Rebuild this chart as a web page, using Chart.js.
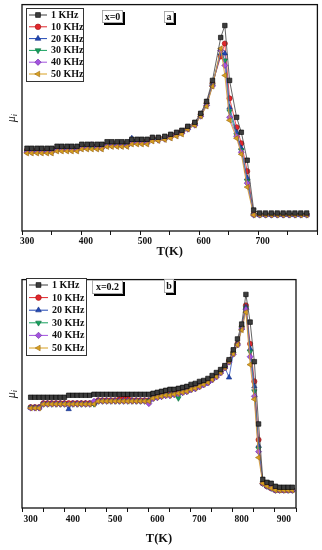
<!DOCTYPE html>
<html>
<head>
<meta charset="utf-8">
<script src="https://cdn.jsdelivr.net/npm/chart.js@4.4.1/dist/chart.umd.min.js"></script>
<style>
  html, body { margin: 0; padding: 0; background: #fff; }
  canvas { display: block; }
</style>
</head>
<body>
<canvas id="chartA" width="322" height="275"></canvas>
<canvas id="chartB" width="322" height="275"></canvas>
<script>
// ==================================
// Data (arbitrary units)
// ==================================
const SERIES = ["1 KHz", "10 KHz", "20 KHz", "30 KHz", "40 KHz", "50 KHz"];
const TICK_LABELS = [300, 400, 500, 600, 700, 800, 900];

// panel a : x = 0
const tempA = [300, 308, 317, 325, 334, 342, 351, 359, 368, 376, 385, 393, 402, 410, 419, 427, 436, 444, 453, 461, 470, 478, 487, 495, 504,
  513, 523, 534, 544, 554, 563, 573, 585, 595, 605, 615, 629, 636, 644, 656, 664, 674, 685,
  695, 705, 715, 725, 735, 745, 755, 765, 775];
const a1k = [83, 83, 83, 83, 83, 83, 85, 85, 85, 85, 85, 87, 87, 87, 87, 87, 89.5, 89.5, 89.5, 89.5, 89.5, 92, 92, 92, 92,
  94, 94, 95, 97, 99, 101, 105, 109, 118, 130, 151, 194, 206, 151, 114, 99, 71, 21,
  18, 18, 18, 18, 18, 18, 18, 18, 18];
const a10k = [81, 81, 81, 81, 81, 81, 83, 83, 83, 83, 83, 85, 85, 85, 85, 85, 87.5, 87.5, 87.5, 87.5, 88, 90, 90, 90.5, 90.5,
  93, 93, 94, 96, 98, 100, 104, 108, 117, 128, 148, 175, 188, 133, 104, 88, 60, 17,
  16.5, 16.5, 16.5, 16.5, 16.5, 16.5, 16.5, 16.5, 16.5];
const a20k = [80, 80, 80, 80, 80, 80, 82, 82, 82, 82, 82, 84, 84, 84, 84, 84, 86.5, 86.5, 86.5, 86.5, 86.5, 93, 89, 89, 89,
  92, 92, 93, 95, 97, 99, 103, 107, 116, 127, 147, 178, 178, 124, 99, 83, 53, 16.5,
  16, 16, 16, 16, 16, 16, 16, 16, 16];
const a30k = [79.5, 79.5, 79.5, 79.5, 79.5, 79.5, 81.5, 81.5, 81.5, 81.5, 81.5, 83.5, 83.5, 83.5, 83.5, 83.5, 86, 86, 86, 86, 86, 88.5, 88.5, 88.5, 88.5,
  91.5, 91.5, 92.5, 94.5, 96.5, 98.5, 102.5, 106.5, 115.5, 126.5, 146, 180, 171, 120, 96, 81, 50, 16,
  16, 16, 16, 16, 16, 16, 16, 16, 16];
const a40k = [79, 79, 79, 79, 79, 79, 81, 81, 81, 81, 81, 83, 83, 86.5, 83, 83, 85.5, 85.5, 85.5, 85.5, 85.5, 88, 88, 88, 88,
  91, 91, 92, 94, 96, 98, 102, 106, 115, 126, 145.5, 181, 166, 114, 95, 79, 48, 16,
  16, 16, 16, 16, 16, 16, 16, 16, 16];
const a50k = [78, 78, 78, 78, 78, 78, 80, 80, 80, 80, 80, 82, 82, 82, 82, 82, 84.5, 84.5, 84.5, 84.5, 84.5, 87, 87, 87, 87,
  90, 90.5, 91.5, 93, 95, 97, 102, 106, 115, 125, 145, 183, 156, 111, 93, 77, 44, 16,
  16, 16, 16, 16, 16, 16, 16, 16, 16];

// panel b : x = 0.2
const tempB = [300, 310, 320, 330, 340, 350, 360, 370, 380, 390, 400, 410, 420, 430, 440, 450, 460, 470, 480, 490,
  500, 510, 520, 530, 540, 550, 560, 570, 580, 590, 600, 610, 620, 630, 640, 650, 660, 670, 680, 690,
  700, 710, 720, 730, 740, 750, 760, 770, 780, 790, 800, 810, 820, 830, 840, 850, 860, 870, 880, 890,
  900, 910, 920];
const b1k = [112, 112, 112, 112, 112, 112, 112, 112, 112, 114, 114, 114, 114, 114, 114,
  115, 115, 115, 115, 115, 115, 115, 115, 115, 115, 115, 115, 115, 115,
  116, 117, 118, 119, 120, 120, 121, 122, 123, 125, 126, 128, 129, 131, 134, 137, 140, 144, 150, 160,
  171, 186, 216, 188, 148, 85, 29, 26, 25, 22, 21, 21, 21, 21];
const b10k = [102, 102, 102, 106, 106, 106, 106, 106, 106, 106, 106, 106, 106, 106, 106, 106,
  109, 109, 109, 109, 109, 110, 111, 111, 109, 109, 109, 109, 109,
  112, 113, 114, 115, 115, 116, 117, 118, 119, 121, 122, 124, 126, 128, 131, 134, 138, 143, 149, 157,
  166, 183, 205, 166, 128, 69, 25, 22, 20, 18, 18, 18, 18, 18];
const b20k = [101.5, 101.5, 101.5, 105.5, 105.5, 105.5, 105.5, 105.5, 105.5, 100, 105.5, 105.5, 105.5, 105.5, 105.5, 105.5,
  108.5, 108.5, 108.5, 108.5, 108.5, 108.5, 108.5, 108.5, 108.5, 108.5, 108.5, 108.5, 108.5,
  111.5, 112.5, 113.5, 114.5, 114.5, 115.5, 116.5, 117.5, 118.5, 120.5, 121.5, 123.5, 125.5, 127.5, 130.5, 133.5, 137.5, 142.5, 132, 156.5,
  165.5, 182, 203, 161, 123, 63, 25, 22, 20, 18, 18, 18, 18, 18];
const b30k = [101.5, 101.5, 101.5, 105, 105, 105, 105, 105, 105, 105, 105, 105, 105, 105, 105, 105,
  108, 108, 108, 108, 108, 108, 108, 108, 108, 108, 108, 108, 108,
  111, 112, 113, 114, 114, 115, 111, 117, 118, 120, 121, 123, 125, 127, 130, 133, 137, 142, 148, 156,
  165, 182, 202, 158, 118, 60, 25, 22, 20, 18, 18, 18, 18, 18];
const b40k = [101, 101, 101, 105, 105, 105, 105, 105, 105, 105, 105, 105, 105, 105, 105, 108,
  108, 108, 108, 108, 108, 108, 108, 108, 108, 108, 108, 108, 105.5,
  110.5, 111.5, 112.5, 113.5, 113.5, 114.5, 115.5, 116.5, 117.5, 119.5, 120.5, 122.5, 124.5, 126.5, 129.5, 132.5, 136.5, 141.5, 147.5, 155.5,
  165, 181, 201, 153, 113, 57, 25, 22, 20, 18, 18, 18, 18, 18];
const b50k = [101, 101, 101, 105, 105, 105, 105, 105, 105, 105, 105, 105, 105, 105, 105, 105,
  108, 108, 108, 108, 108, 108, 108, 108, 108, 108, 108, 108, 108,
  111, 112, 113, 114, 114, 115, 116, 117, 118, 120, 121, 123, 125, 127, 130, 133, 137, 142, 148, 156,
  165, 180, 198, 145, 110, 51, 25, 22, 20, 18, 18, 18, 18, 18];

// ==================================
// Styles
// ==================================
const COLORS = ["#3d3d3d", "#e2262b", "#2148b5", "#16a25e", "#a353de", "#d8a022"];
const EDGES = ["#000000", "#9a1010", "#102a80", "#0a6a3a", "#6a2aa0", "#9a6a10"];
const SHAPES = ["rect", "circle", "triangle", "triangle", "rectRot", "triangle"];
const ROTATION = [0, 0, 0, 180, 0, -90];
const RADIUS = [3.2, 2.6, 3.1, 3.1, 3, 3.1];
const ORDER = [0, 5, 4, 3, 2, 1];
const SERIF = "'Liberation Serif', 'Times New Roman', serif";

function buildDatasets(temps, seriesValues) {
  return seriesValues.map((values, i) => ({
    label: SERIES[i],
    data: values.map((v, k) => ({ x: temps[k], y: v })),
    borderColor: COLORS[i],
    backgroundColor: COLORS[i],
    pointBackgroundColor: COLORS[i],
    pointBorderColor: EDGES[i],
    pointStyle: SHAPES[i],
    pointRotation: ROTATION[i],
    pointRadius: RADIUS[i],
    pointBorderWidth: 0.6,
    borderWidth: 0.8,
    order: ORDER[i],
  }));
}

// ==================================
// Frame around plot area + x tick labels
// ==================================
function framePlugin(labelGap) {
  return {
    id: "frame",
    afterDraw(chart) {
      const { ctx, chartArea: a } = chart;
      const xs = chart.scales.x;
      ctx.save();
      ctx.strokeStyle = "#111";
      ctx.lineWidth = 1.3;
      ctx.strokeRect(a.left, a.top, a.right - a.left, a.bottom - a.top);

      // labels on the hundreds only, the 50s keep a bare tick
      ctx.fillStyle = "#111";
      ctx.font = "bold 9.5px " + SERIF;
      ctx.textAlign = "center";
      ctx.textBaseline = "middle";
      TICK_LABELS.forEach((v) => {
        if (v < xs.min || v > xs.max) return;
        ctx.fillText(String(v), xs.getPixelForValue(v), a.bottom + labelGap);
      });
      ctx.restore();
    },
  };
}

// ==================================
// y title "μi"
// ==================================
const yTitlePlugin = {
  id: "yTitle",
  afterDraw(chart) {
    const { ctx, chartArea: a } = chart;
    ctx.save();
    ctx.translate(12, (a.top + a.bottom) / 2);
    ctx.rotate(-Math.PI / 2);
    ctx.fillStyle = "#111";
    ctx.textBaseline = "middle";
    ctx.font = "italic 12px " + SERIF;
    const w = ctx.measureText("μ").width;
    ctx.fillText("μ", -w / 2 - 1.5, 0);
    ctx.font = "italic 8px " + SERIF;
    ctx.fillText("i", w / 2 - 1.5, 3);
    ctx.restore();
  },
};

// ==================================
// Legend inside the plot (box top-left)
// ==================================
function legendPlugin(box) {
  return {
    id: "boxLegend",
    afterDraw(chart) {
      const { ctx } = chart;
      ctx.save();
      ctx.fillStyle = "#fff";
      ctx.fillRect(box.x, box.y, box.w, box.h);
      ctx.strokeStyle = "#333";
      ctx.lineWidth = 1;
      ctx.strokeRect(box.x + 0.5, box.y + 0.5, box.w, box.h);

      chart.data.datasets.forEach((ds, i) => {
        const y = box.rowTop + i * box.rowGap;
        ctx.strokeStyle = ds.borderColor;
        ctx.lineWidth = 1;
        ctx.beginPath();
        ctx.moveTo(box.lineX0, y);
        ctx.lineTo(box.lineX1, y);
        ctx.stroke();

        ctx.fillStyle = ds.pointBackgroundColor;
        ctx.strokeStyle = ds.pointBorderColor;
        ctx.lineWidth = 0.6;
        Chart.helpers.drawPoint(ctx, {
          pointStyle: ds.pointStyle,
          rotation: ds.pointRotation,
          radius: ds.pointRadius + 0.2,
          borderWidth: 0.6,
        }, (box.lineX0 + box.lineX1) / 2, y);

        ctx.fillStyle = "#111";
        ctx.font = "bold 10px " + SERIF;
        ctx.textBaseline = "middle";
        ctx.textAlign = "left";
        ctx.fillText(ds.label, box.textX, y + 0.5);
      });
      ctx.restore();
    },
  };
}

// ==================================
// Small shadowed tags ("x=0", "a" ...)
// ==================================
function tagPlugin(tags) {
  return {
    id: "tags",
    afterDraw(chart) {
      const { ctx } = chart;
      ctx.save();
      tags.forEach((t) => {
        ctx.fillStyle = "#000";
        ctx.fillRect(t.x + 2, t.y + 2, t.w, t.h);
        ctx.fillStyle = "#fff";
        ctx.fillRect(t.x, t.y, t.w, t.h);
        ctx.strokeStyle = "#999";
        ctx.lineWidth = 0.8;
        ctx.strokeRect(t.x + 0.5, t.y + 0.5, t.w - 1, t.h - 1);
        ctx.fillStyle = "#111";
        ctx.font = "bold 10px " + SERIF;
        ctx.textAlign = "center";
        ctx.textBaseline = "middle";
        ctx.fillText(t.text, t.x + t.w / 2, t.y + t.h / 2 + 0.5);
      });
      ctx.restore();
    },
  };
}

// ==================================
// Create one panel
// ==================================
function createPanel(canvasId, cfg) {
  const ctx = document.getElementById(canvasId);
  if (!ctx) return;

  return new Chart(ctx, {
    type: "line",
    data: { datasets: buildDatasets(cfg.temps, cfg.values) },
    options: {
      responsive: false,
      animation: false,
      layout: { padding: cfg.padding },
      plugins: {
        legend: { display: false },
        tooltip: { enabled: false },
      },
      scales: {
        x: {
          type: "linear",
          position: "bottom",
          min: cfg.xMin,
          max: cfg.xMax,
          grid: {
            display: true,
            drawOnChartArea: false,
            drawTicks: true,
            tickLength: 4,
            color: "#111",
            lineWidth: 1,
          },
          border: { display: false },
          ticks: {
            stepSize: 50,
            includeBounds: false,
            autoSkip: false,
            maxRotation: 0,
            color: "#111",
            font: { family: SERIF, size: 9.5, weight: "bold" },
            callback: () => "",
          },
          title: {
            display: true,
            text: "T(K)",
            color: "#111",
            font: { family: SERIF, size: 12.5, weight: "bold" },
            padding: { top: 0, bottom: cfg.titlePad },
          },
          afterFit(scale) {
            scale.height = cfg.xHeight;
          },
        },
        y: {
          min: 0,
          max: cfg.yMax,
          ticks: { display: false },
          grid: { display: false },
          border: { display: false },
          afterFit(scale) {
            scale.width = 22;
          },
        },
      },
    },
    plugins: [framePlugin(cfg.labelGap), yTitlePlugin, legendPlugin(cfg.legend), tagPlugin(cfg.tags)],
  });
}

createPanel("chartA", {
  temps: tempA,
  values: [a1k, a10k, a20k, a30k, a40k, a50k],
  padding: { left: 0, top: 4, right: 4, bottom: 0 },
  xMin: 291.5,
  xMax: 793.2,
  yMax: 227,
  xHeight: 44,
  labelGap: 11,
  titlePad: 15.5,
  legend: { x: 26, y: 8, w: 57, h: 73, rowTop: 15, rowGap: 11.8, lineX0: 29, lineX1: 47, textX: 51 },
  tags: [
    { text: "x=0", x: 102, y: 10, w: 21, h: 13 },
    { text: "a", x: 164, y: 11, w: 10, h: 12 },
  ],
});

createPanel("chartB", {
  temps: tempB,
  values: [b1k, b10k, b20k, b30k, b40k, b50k],
  padding: { left: 0, top: 2, right: 26, bottom: 0 },
  xMin: 279.4,
  xMax: 928.7,
  yMax: 231,
  xHeight: 42,
  labelGap: 12,
  titlePad: 3.5,
  legend: { x: 26, y: 3, w: 60, h: 77, rowTop: 10, rowGap: 12.6, lineX0: 29, lineX1: 48, textX: 52 },
  tags: [
    { text: "x=0.2", x: 92, y: 5, w: 31, h: 14 },
    { text: "b", x: 164, y: 4, w: 10, h: 14 },
  ],
});
</script>
</body>
</html>
